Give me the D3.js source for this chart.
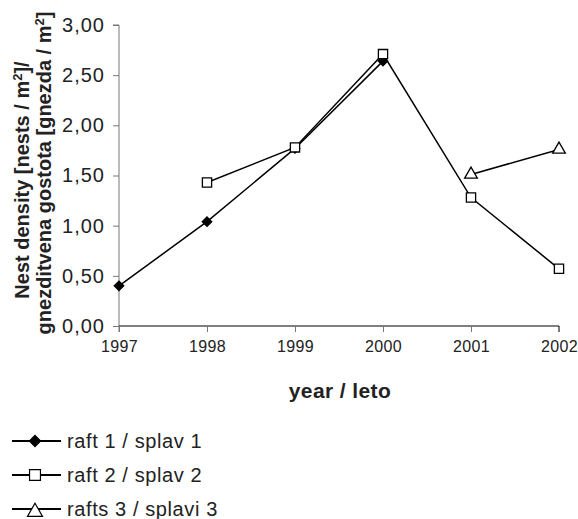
<!DOCTYPE html>
<html>
<head>
<meta charset="utf-8">
<script src="https://cdn.jsdelivr.net/npm/d3@7"></script>
<style>
  body { margin: 0; background: #fff; }
  text { font-family: "Liberation Sans", Arial, sans-serif; fill: #222; }
</style>
</head>
<body>
<svg id="chart" width="578" height="519"></svg>
<script>
// data
var years = [1997, 1998, 1999, 2000, 2001, 2002];
var raft1 = [0.40, 1.04, 1.77, 2.64, null, null];
var raft2 = [null, 1.43, 1.78, 2.71, 1.28, 0.57];
var raft3 = [null, null, null, null, 1.51, 1.76];
var yTicks = [0, 0.5, 1, 1.5, 2, 2.5, 3];
var seriesNames = ["raft 1 / splav 1", "raft 2 / splav 2", "rafts 3 / splavi 3"];

var svg = d3.select("#chart");
var m = { left: 119, right: 559, top: 25, bottom: 326 };

var x = d3.scalePoint().domain(years).range([m.left, m.right]);
var y = d3.scaleLinear().domain([0, 3]).range([m.bottom, m.top]);

// y axis
var gy = svg.append("g")
    .attr("transform", "translate(" + m.left + ",0)")
    .call(d3.axisLeft(y).tickValues(yTicks).tickSize(6).tickPadding(8)
        .tickFormat(function (d) { return d3.format(".2f")(d).replace(".", ","); }));
gy.select(".domain").attr("stroke", "#777").attr("d", "M-6," + m.top + "H0V" + (m.bottom + 6));
gy.selectAll(".tick line").attr("stroke", "#777");
gy.selectAll(".tick text").style("font-size", "20px").style("letter-spacing", "1px")
    .attr("fill", "#333").attr("font-family", null);

// x axis
var gx = svg.append("g")
    .attr("transform", "translate(0," + m.bottom + ")")
    .call(d3.axisBottom(x).tickSize(6).tickPadding(9).tickFormat(d3.format("d")));
gx.select(".domain").attr("stroke", "#000").attr("d", "M" + m.left + ",0H" + m.right + "V6");
gx.selectAll(".tick line").attr("stroke", "#777");
gx.selectAll(".tick text").style("font-size", "16px").style("letter-spacing", "0.3px")
    .attr("fill", "#333").attr("font-family", null);

// axis titles
svg.append("text")
    .attr("x", 340).attr("y", 398)
    .attr("text-anchor", "middle")
    .style("font-weight", "bold").style("font-size", "21px").style("letter-spacing", "0.4px")
    .text("year / leto");

var yt = svg.append("text")
    .attr("transform", "translate(29,180)rotate(-90)")
    .attr("text-anchor", "middle")
    .style("font-weight", "bold").style("font-size", "20px");
yt.append("tspan").text("Nest density [nests / m");
yt.append("tspan").attr("baseline-shift", "super").style("font-size", "13px").text("2");
yt.append("tspan").text("]/");
var yt2 = svg.append("text")
    .attr("transform", "translate(51,173)rotate(-90)")
    .attr("text-anchor", "middle")
    .style("font-weight", "bold").style("font-size", "20px");
yt2.append("tspan").text("gnezditvena gostota [gnezda / m");
yt2.append("tspan").attr("baseline-shift", "super").style("font-size", "13px").text("2");
yt2.append("tspan").text("]");

// lines
var line = d3.line()
    .defined(function (d) { return d[1] != null; })
    .x(function (d) { return x(d[0]); })
    .y(function (d) { return y(d[1]); });

var allSeries = [raft1, raft2, raft3];
// diamond = square turned 45 degrees
var symbols = [d3.symbolSquare, d3.symbolSquare, d3.symbolTriangle];
var rotations = [45, 0, 0];
var fills = ["#000", "#fff", "#fff"];
var sizes = [45, 85, 70];

allSeries.forEach(function (vals) {
    var pts = years.map(function (yr, j) { return [yr, vals[j]]; });
    svg.append("path")
        .datum(pts)
        .attr("d", line)
        .attr("fill", "none")
        .attr("stroke", "#000")
        .attr("stroke-width", 1.5);
});

allSeries.forEach(function (vals, i) {
    var pts = years.map(function (yr, j) { return [yr, vals[j]]; })
        .filter(function (d) { return d[1] != null; });
    svg.append("g").selectAll("path")
        .data(pts)
        .enter()
        .append("path")
        .attr("d", d3.symbol().type(symbols[i]).size(sizes[i]))
        .attr("transform", function (d) {
            return "translate(" + x(d[0]) + "," + y(d[1]) + ")rotate(" + rotations[i] + ")";
        })
        .attr("fill", fills[i])
        .attr("stroke", "#000")
        .attr("stroke-width", 1.3);
});

// legend
var legendY = d3.scalePoint().domain(seriesNames).range([441, 509]);
var lg = svg.append("g").selectAll("g")
    .data(seriesNames)
    .enter()
    .append("g")
    .attr("transform", function (d) { return "translate(0," + legendY(d) + ")"; });
lg.append("line")
    .attr("x1", 12).attr("x2", 61)
    .attr("stroke", "#000").attr("stroke-width", 2);
lg.append("path")
    .attr("d", function (d, i) { return d3.symbol().type(symbols[i]).size(sizes[i] * 1.4)(); })
    .attr("transform", function (d, i) { return "translate(35," + (i == 2 ? 3 : 0) + ")rotate(" + rotations[i] + ")"; })
    .attr("fill", function (d, i) { return fills[i]; })
    .attr("stroke", "#000")
    .attr("stroke-width", 1.2);
lg.append("text")
    .attr("x", 67).attr("dy", "0.35em")
    .style("font-size", "20px").style("letter-spacing", "0.6px")
    .text(function (d) { return d; });
</script>
</body>
</html>
